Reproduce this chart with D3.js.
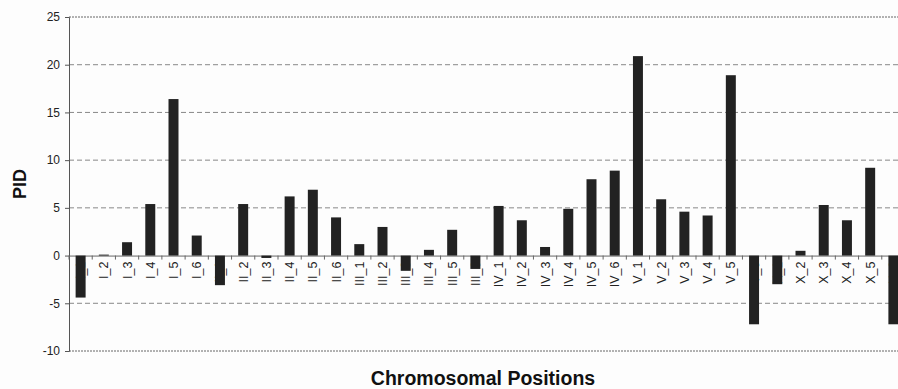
<!DOCTYPE html>
<html>
<head>
<meta charset="utf-8">
<script src="https://cdn.jsdelivr.net/npm/d3@7"></script>
<style>
  body { margin: 0; background: #fdfdfd; }
  svg { display: block; font-family: Arial, "Liberation Sans", sans-serif; }
</style>
</head>
<body>
<svg id="chart"></svg>
<script>
// chromosome positions (labels) and PID values
const positions = [
  "I_1", "I_2", "I_3", "I_4", "I_5", "I_6",
  "II_1", "II_2", "II_3", "II_4", "II_5", "II_6",
  "III_1", "III_2", "III_3", "III_4", "III_5", "III_6",
  "IV_1", "IV_2", "IV_3", "IV_4", "IV_5", "IV_6",
  "V_1", "V_2", "V_3", "V_4", "V_5", "V_6",
  "X_1", "X_2", "X_3", "X_4", "X_5", "X_6"
];
const pid = [
  -4.4, 0.1, 1.4, 5.4, 16.4, 2.1,
  -3.1, 5.4, -0.25, 6.2, 6.9, 4.0,
  1.2, 3.0, -1.6, 0.6, 2.7, -1.4,
  5.2, 3.7, 0.9, 4.9, 8.0, 8.9,
  20.9, 5.9, 4.6, 4.2, 18.9, -7.2,
  -3.0, 0.5, 5.3, 3.7, 9.2, -7.2
];
const yTicks = [-10, -5, 0, 5, 10, 15, 20, 25];

const width = 898, height = 389;
const margin = { top: 17, left: 69, right: -7, bottom: 38 };

const svg = d3.select("#chart").attr("width", width).attr("height", height);

const x = d3.scaleBand()
  .domain(positions)
  .range([margin.left, width - margin.right])
  .paddingInner(0.57)
  .paddingOuter(0.285);

const y = d3.scaleLinear()
  .domain([-10, 25])
  .range([height - margin.bottom, margin.top]);

// grid lines
svg.append("g")
  .selectAll("line")
  .data(yTicks.filter(d => d !== 0))
  .join("line")
  .attr("x1", margin.left)
  .attr("x2", width)
  .attr("y1", d => y(d))
  .attr("y2", d => y(d))
  .attr("stroke", d => (d === 25 || d === -10) ? "#666" : "#888")
  .attr("stroke-width", 1)
  .attr("stroke-dasharray", d => (d === 25 || d === -10) ? "2,1" : "5,3");

// y axis (plain hyphen for negatives, like the original)
const yAxis = svg.append("g")
  .attr("transform", `translate(${margin.left},0)`)
  .call(d3.axisLeft(y).tickValues(yTicks).tickSize(4).tickPadding(5).tickFormat(d => String(d)));
yAxis.select(".domain").attr("stroke", "#555");
yAxis.selectAll(".tick line").attr("stroke", "#555");
yAxis.selectAll(".tick text")
  .attr("font-size", 12)
  .attr("fill", "#222")
  .style("font-family", "Arial, 'Liberation Sans', sans-serif");

// zero line with category ticks
const xAxis = svg.append("g")
  .attr("transform", `translate(0,${y(0)})`)
  .call(d3.axisBottom(x).tickSize(0).tickFormat(""));
xAxis.select(".domain").attr("stroke", "#666");
xAxis.selectAll(".tick").remove();

const step = x.step();
svg.append("g")
  .selectAll("line")
  .data(positions)
  .join("line")
  .attr("x1", (d) => x(d) - (step - x.bandwidth()) / 2)
  .attr("x2", (d) => x(d) - (step - x.bandwidth()) / 2)
  .attr("y1", y(0))
  .attr("y2", y(0) + 4)
  .attr("stroke", "#666");

// category labels (drawn below the bars so negative bars hide them)
svg.append("g")
  .selectAll("text")
  .data(positions)
  .join("text")
  .attr("transform", d => `translate(${x(d) + x.bandwidth() / 2 + 4.5},${y(0) + 6}) rotate(-90)`)
  .attr("text-anchor", "end")
  .attr("font-size", 12.5)
  .attr("fill", "#222")
  .text(d => d);

// bars
svg.append("g")
  .selectAll("rect")
  .data(pid)
  .join("rect")
  .attr("x", (d, i) => x(positions[i]))
  .attr("width", x.bandwidth())
  .attr("y", d => y(Math.max(0, d)))
  .attr("height", d => Math.abs(y(d) - y(0)))
  .attr("fill", "#222");

// axis titles
svg.append("text")
  .attr("transform", `translate(26,${(y(25) + y(-10)) / 2}) rotate(-90)`)
  .attr("text-anchor", "middle")
  .attr("font-size", 18)
  .attr("font-weight", "bold")
  .attr("fill", "#111")
  .text("PID");

svg.append("text")
  .attr("x", 483)
  .attr("y", 385)
  .attr("text-anchor", "middle")
  .attr("font-size", 19.5)
  .attr("font-weight", "bold")
  .attr("fill", "#111")
  .text("Chromosomal Positions");
</script>
</body>
</html>
